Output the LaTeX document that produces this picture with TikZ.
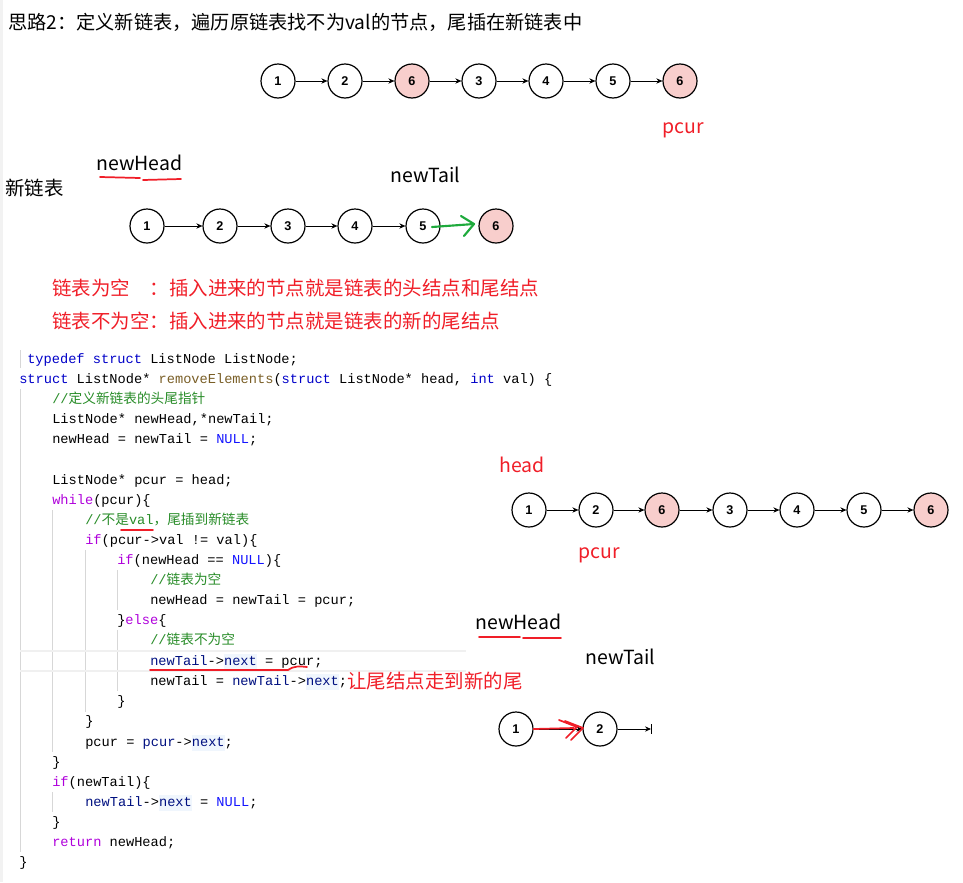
\documentclass[tikz,border=0pt]{standalone}
\usepackage{fontspec}
\setmainfont{Noto Sans CJK SC}
\newfontfamily\cjk{Noto Sans CJK SC}
\newfontfamily\codefont{Liberation Mono}
\newfontfamily\digitfont{Liberation Sans}
\usetikzlibrary{arrows.meta}

\definecolor{valpink}{HTML}{F8CECC}
\definecolor{notered}{RGB}{240,30,40}
\definecolor{arrowgreen}{RGB}{30,170,60}
\definecolor{kwblue}{RGB}{0,0,200}
\definecolor{nullblue}{RGB}{20,20,255}
\definecolor{ctlpurple}{RGB}{175,0,219}
\definecolor{cmtgreen}{RGB}{40,140,40}
\definecolor{fnbrown}{RGB}{121,94,38}
\definecolor{mbrnavy}{RGB}{0,16,128}
\definecolor{nextbg}{RGB}{240,246,253}
\definecolor{guidegray}{RGB}{215,215,215}

\newcommand\kwd[1]{\textcolor{kwblue}{#1}}
\newcommand\ctl[1]{\textcolor{ctlpurple}{#1}}
\newcommand\cmt[1]{\textcolor{cmtgreen}{#1}}
\newcommand\fnm[1]{\textcolor{fnbrown}{#1}}
\newcommand\mbr[1]{\textcolor{mbrnavy}{#1}}
\newcommand\nul[1]{\textcolor{nullblue}{#1}}
\newcommand\nxt{{\fboxsep=0pt\colorbox{nextbg}{\rule[-3pt]{0pt}{11.5pt}\textcolor{mbrnavy}{next}}}}

\begin{document}
\begin{tikzpicture}[
  x=0.75pt, y=-0.75pt,
  every node/.style={inner sep=0pt},
  lnode/.style={circle, draw, line width=0.9pt, minimum size=25.5pt, font=\digitfont\bfseries\fontsize{9.5}{10}\selectfont},
  valnode/.style={lnode, fill=valpink},
  nextarrow/.style={-{Stealth[length=4.5pt, width=4pt]}, line width=0.7pt},
  plaintext/.style={anchor=west, font=\fontsize{14.6}{16}\selectfont},
  redtext/.style={plaintext, text=notered},
  codeline/.style={anchor=west, font=\codefont\fontsize{10.25}{12}\selectfont, text height=8.5pt, text depth=1.7pt},
  indentguide/.style={draw=guidegray, line width=0.6pt},
  scribble/.style={draw=notered, line width=1.3pt, line cap=round, line join=round},
  greenmark/.style={draw=arrowgreen, line width=1.6pt, line cap=round, line join=round}]

\useasboundingbox (0,0) rectangle (963,882);
\fill[gray!10] (0,0) rectangle (3,882);

\node[plaintext, font=\fontsize{14.4}{16}\selectfont] (title) at (8,22) {思路2：定义新链表，遍历原链表找不为val的节点，尾插在新链表中};

% original list
\node[lnode]   (a1) at (278,81) {1};
\node[lnode]   (a2) at (345,81) {2};
\node[valnode] (a3) at (412,81) {6};
\node[lnode]   (a4) at (479,81) {3};
\node[lnode]   (a5) at (546,81) {4};
\node[lnode]   (a6) at (613,81) {5};
\node[valnode] (a7) at (680,81) {6};
\draw[nextarrow] (a1) -- (a2);
\draw[nextarrow] (a2) -- (a3);
\draw[nextarrow] (a3) -- (a4);
\draw[nextarrow] (a4) -- (a5);
\draw[nextarrow] (a5) -- (a6);
\draw[nextarrow] (a6) -- (a7);
\node[redtext] (pcurtop) at (662,130) {pcur};

% new list
\node[plaintext] (headtop) at (96,163) {newHead};
\draw[scribble] (100,177) -- (140,178);
\draw[scribble] (143,180) -- (181,179);
\node[plaintext] (newlist) at (5,188) {新链表};
\node[plaintext] (tailtop) at (390,175) {newTail};

\node[lnode]   (b1) at (147,226) {1};
\node[lnode]   (b2) at (220,226) {2};
\node[lnode]   (b3) at (288,226) {3};
\node[lnode]   (b4) at (355,226) {4};
\node[lnode]   (b5) at (423,226) {5};
\node[valnode] (b6) at (496,226) {6};
\draw[nextarrow] (b1) -- (b2);
\draw[nextarrow] (b2) -- (b3);
\draw[nextarrow] (b3) -- (b4);
\draw[nextarrow] (b4) -- (b5);
\coordinate (g0) at (432,227);
\coordinate (g1) at (474,224);
\draw[greenmark] (g0) -- (g1);
\draw[greenmark] (461,216) -- (g1) -- (464,236);

\node[redtext] (empty) at (52,288) {链表为空\hspace{1em}：插入进来的节点就是链表的头结点和尾结点};
\node[redtext] (notempty) at (52,321) {链表不为空：插入进来的节点就是链表的新的尾结点};

% code
\draw[indentguide] (20,350) -- (20,368);
\draw[indentguide] (20,389) -- (20,852);
\draw[indentguide] (52,510) -- (52,752);
\draw[indentguide] (52,792) -- (52,812);
\draw[indentguide] (85,550) -- (85,712);
\draw[indentguide] (117,570) -- (117,610);
\draw[indentguide] (117,630) -- (117,691);
\draw[draw=gray!12, line width=0.8pt] (20,651) -- (466,651);
\draw[draw=gray!12, line width=0.8pt] (20,671) -- (466,671);

\node[codeline] (l1)  at (27,359)  {\kwd{typedef} \kwd{struct} ListNode ListNode;};
\node[codeline] (l2)  at (19,379)  {\kwd{struct} ListNode* \fnm{removeElements}(\kwd{struct} ListNode* head, \kwd{int} val) \{};
\node[codeline] (l3)  at (52,399)  {\cmt{//{\cjk 定义新链表的头尾指针}}};
\node[codeline] (l4)  at (52,419)  {ListNode* newHead,*newTail;};
\node[codeline] (l5)  at (52,439)  {newHead = newTail = \nul{NULL};};
\node[codeline] (l7)  at (52,480)  {ListNode* pcur = head;};
\node[codeline] (l8)  at (52,500)  {\ctl{while}(pcur)\{};
\node[codeline] (l9)  at (85,520)  {\cmt{//{\cjk 不是}val{\cjk ，尾插到新链表}}};
\node[codeline] (l10) at (85,540)  {\ctl{if}(pcur->val != val)\{};
\node[codeline] (l11) at (117,560) {\ctl{if}(newHead == \nul{NULL})\{};
\node[codeline] (l12) at (150,580) {\cmt{//{\cjk 链表为空}}};
\node[codeline] (l13) at (150,600) {newHead = newTail = pcur;};
\node[codeline] (l14) at (117,620) {\}\ctl{else}\{};
\node[codeline] (l15) at (150,640) {\cmt{//{\cjk 链表不为空}}};
\node[codeline] (l16) at (150,661) {\mbr{newTail}->\nxt{} = pcur;};
\node[codeline] (l17) at (150,681) {newTail = \mbr{newTail}->\nxt;};
\node[codeline] (l18) at (117,701) {\}};
\node[codeline] (l19) at (85,721)  {\}};
\node[codeline] (l20) at (85,742)  {pcur = \mbr{pcur}->\nxt;};
\node[codeline] (l21) at (52,762)  {\}};
\node[codeline] (l22) at (52,782)  {\ctl{if}(newTail)\{};
\node[codeline] (l23) at (85,802)  {\mbr{newTail}->\nxt{} = \nul{NULL};};
\node[codeline] (l24) at (52,822)  {\}};
\node[codeline] (l25) at (52,842)  {\ctl{return} newHead;};
\node[codeline] (l26) at (19,862)  {\}};

\draw[scribble] (121,530) -- (153,530);
\draw[scribble] (150,670) -- (288,670) .. controls (293,666) and (300,666) .. (307,667);
\node[redtext] (tailnote) at (347,681) {让尾结点走到新的尾};

% traversal
\node[redtext] (headmid) at (499,465) {head};
\node[lnode]   (c1) at (529,510) {1};
\node[lnode]   (c2) at (596,510) {2};
\node[valnode] (c3) at (662,510) {6};
\node[lnode]   (c4) at (730,510) {3};
\node[lnode]   (c5) at (797,510) {4};
\node[lnode]   (c6) at (864,510) {5};
\node[valnode] (c7) at (931,510) {6};
\draw[nextarrow] (c1) -- (c2);
\draw[nextarrow] (c2) -- (c3);
\draw[nextarrow] (c3) -- (c4);
\draw[nextarrow] (c4) -- (c5);
\draw[nextarrow] (c5) -- (c6);
\draw[nextarrow] (c6) -- (c7);
\node[redtext] (pcurmid) at (578,555) {pcur};

\node[plaintext] (headlow) at (475,622) {newHead};
\draw[scribble] (479,637) -- (520,637);
\draw[scribble] (523,638) -- (561,638);
\node[plaintext] (taillow) at (585,657) {newTail};

\node[lnode] (d1) at (516,729) {1};
\node[lnode] (d2) at (600,729) {2};
\coordinate (dend) at (651,729);
\draw[nextarrow] (d1) -- (d2);
\draw[nextarrow] (d2) -- (dend);
\draw[line width=0.75pt] (651,724) -- (651,734);
\draw[scribble] (d1.east) -- (574,728);
\draw[scribble] (559,720) -- (577,727) -- (566,738);
\draw[scribble] (565,721) -- (583,728) -- (571,740);
\end{tikzpicture}
\end{document}
